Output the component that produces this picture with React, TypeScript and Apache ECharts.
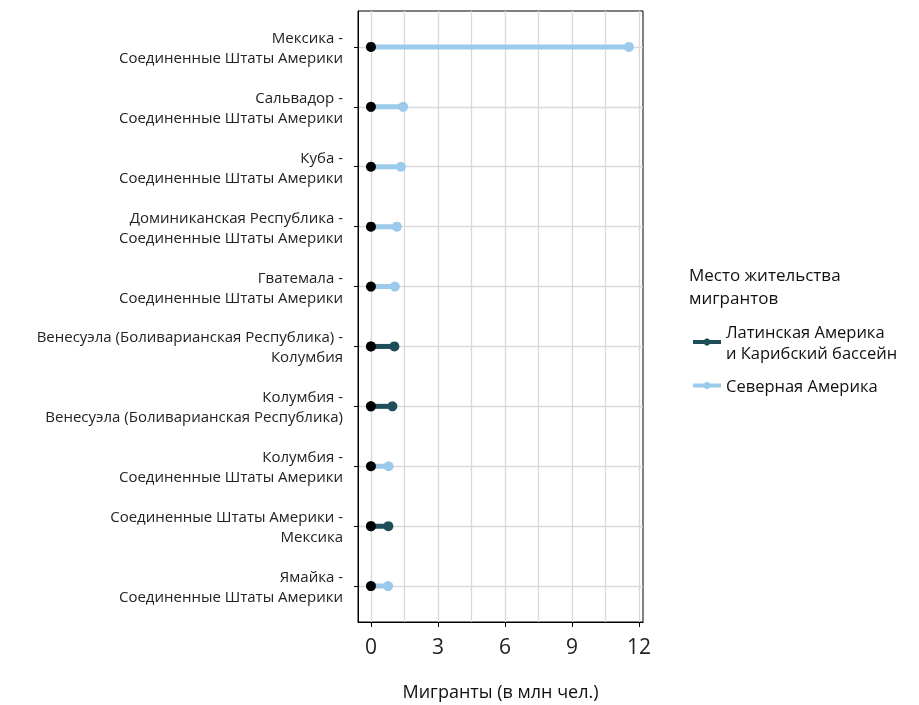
import React, { useEffect, useRef } from "react";
import * as echarts from "echarts";

const categories = [
  "Мексика -\nСоединенные Штаты Америки",
  "Сальвадор -\nСоединенные Штаты Америки",
  "Куба -\nСоединенные Штаты Америки",
  "Доминиканская Республика -\nСоединенные Штаты Америки",
  "Гватемала -\nСоединенные Штаты Америки",
  "Венесуэла (Боливарианская Республика) -\nКолумбия",
  "Колумбия -\nВенесуэла (Боливарианская Республика)",
  "Колумбия -\nСоединенные Штаты Америки",
  "Соединенные Штаты Америки -\nМексика",
  "Ямайка -\nСоединенные Штаты Америки",
];
const values = [11.55, 1.44, 1.34, 1.16, 1.07, 1.05, 0.96, 0.79, 0.78, 0.77];
const regionOf = ["NA", "NA", "NA", "NA", "NA", "LA", "LA", "NA", "LA", "NA"];

const regionNames: Record<string, string> = {
  LA: "Латинская Америка и Карибский бассейн",
  NA: "Северная Америка",
};
const regionLegendText: Record<string, string> = {
  "Латинская Америка и Карибский бассейн": "Латинская Америка\nи Карибский бассейн",
  "Северная Америка": "Северная Америка",
};
const regionColors: Record<string, string> = {
  LA: "#1F4E5B",
  NA: "#9BCAEB",
};
const xTicks = [0, 3, 6, 9, 12];
const xGrid = [0, 1.5, 3, 4.5, 6, 7.5, 9, 10.5, 12];

const FONT = "'Open Sans', sans-serif";

export default function App() {
  const ref = useRef<HTMLDivElement>(null);
  useEffect(() => {
    if (!ref.current) return;
    const chart = echarts.init(ref.current, undefined, { renderer: "svg" });
    const idx = categories.map((_, i) => i);
    const lineSeries = values.map((v, i) => ({
      type: "line",
      name: regionNames[regionOf[i]],
      data: [
        [0, i],
        [v, i],
      ],
      color: regionColors[regionOf[i]],
      lineStyle: { width: 5, color: regionColors[regionOf[i]] },
      itemStyle: { color: regionColors[regionOf[i]], opacity: 1 },
      symbol: "circle",
      symbolSize: 10,
      showSymbol: true,
      z: 3,
      silent: true,
    }));
    chart.setOption({
      animation: false,
      textStyle: { fontFamily: FONT },
      grid: {
        left: 358,
        top: 11,
        width: 285,
        height: 611,
        show: true,
        borderColor: "#000",
        borderWidth: 1,
        backgroundColor: "transparent",
      },
      title: {
        text: "Место жительства\nмигрантов",
        left: 684,
        top: 258,
        textStyle: {
          fontFamily: FONT,
          fontSize: 17,
          fontWeight: "normal",
          color: "#111",
          lineHeight: 23,
        },
      },
      legend: {
        orient: "vertical",
        left: 686,
        top: 316,
        itemWidth: 28,
        itemHeight: 9,
        itemGap: 12,
        data: [regionNames.LA, regionNames.NA],
        formatter: (n: string) => regionLegendText[n] || n,
        lineStyle: { width: 4 },
        textStyle: { fontFamily: FONT, fontSize: 16.5, color: "#111", lineHeight: 21 },
      },
      xAxis: [
        {
          type: "value",
          min: -0.58,
          max: 12.18,
          position: "bottom",
          name: "Мигранты (в млн чел.)",
          nameLocation: "middle",
          nameGap: 60,
          nameTextStyle: { fontFamily: FONT, fontSize: 18, color: "#111" },
          axisLine: { show: true, onZero: false, lineStyle: { color: "#000", width: 1 } },
          axisTick: { show: true, length: 5, customValues: xTicks, lineStyle: { color: "#000" } },
          axisLabel: {
            customValues: xTicks,
            fontSize: 21,
            color: "#222",
            margin: 13,
            fontFamily: FONT,
          },
          splitLine: { show: false },
        },
        {
          type: "value",
          min: -0.58,
          max: 12.18,
          position: "bottom",
          axisLine: { show: false },
          axisTick: { show: false, customValues: xGrid },
          axisLabel: { show: false },
          splitLine: { show: true, lineStyle: { color: "#d9d9d9", width: 1.3 } },
        },
      ],
      yAxis: {
        type: "value",
        min: -0.6,
        max: 9.6,
        inverse: true,
        axisLine: { show: true, onZero: false, lineStyle: { color: "#000", width: 1 } },
        axisTick: { show: true, length: 4, customValues: idx, lineStyle: { color: "#000" } },
        axisLabel: {
          customValues: idx,
          formatter: (v: number) => categories[Math.round(v)] ?? "",
          fontSize: 15,
          lineHeight: 20,
          color: "#222",
          margin: 15,
          align: "right",
          fontFamily: FONT,
        },
        splitLine: { show: true, lineStyle: { color: "#d9d9d9", width: 1.3 } },
      },
      series: [
        ...lineSeries,
        {
          type: "scatter",
          name: "origin",
          data: idx.map((i) => [0, i]),
          symbol: "circle",
          symbolSize: 10,
          itemStyle: { color: "#000", opacity: 1 },
          z: 5,
          silent: true,
        },
      ],
    });
    return () => chart.dispose();
  }, []);
  return (
    <div
      ref={ref}
      style={{ width: 919, height: 705, position: "fixed", left: 0, top: 0 }}
    />
  );
}
